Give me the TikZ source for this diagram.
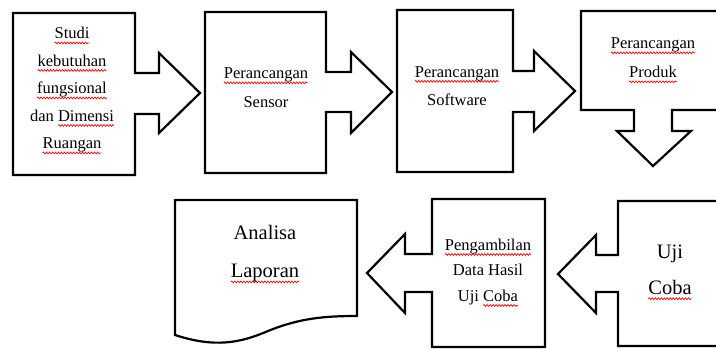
\documentclass[tikz,border=0pt]{standalone}
\usepackage{fontspec}
\setmainfont{Liberation Serif}
\usetikzlibrary{decorations.pathmorphing}
\newsavebox\wbox
\newcommand\sqw[1]{\sbox\wbox{#1}\tikz[x=1pt,y=1pt,baseline=0pt]{\path[use as bounding box] (0,0);
  \draw[red, line width=0.7pt, decorate, decoration={snake, amplitude=0.9pt, segment length=3pt}]
  (0,-4) -- (\the\wd\wbox,-4);}\usebox\wbox}
\tikzset{
  shape line/.style={draw=black, line width=2.2pt, fill=white},
  txt/.style={align=center, inner sep=0pt, text=black},
  small/.style={font=\fontsize{16.5}{#1}\selectfont},
  big/.style={font=\fontsize{20.5}{#1}\selectfont}
}
\begin{document}
\begin{tikzpicture}[x=1pt,y=-1pt]
\useasboundingbox (0,0) rectangle (716,349);
\clip (0,0) rectangle (716,349);
\fill[white] (0,0) rectangle (716,349);
% Box 1 with right arrow
\draw[shape line] (13,13) -- (135,13) -- (135,73) -- (159,73) -- (159,53) -- (200,93)
  -- (159,133) -- (159,114) -- (135,114) -- (135,175) -- (13,175) -- cycle;
% Box 2
\draw[shape line] (205,12) -- (326,12) -- (326,72) -- (351,72) -- (351,52) -- (392,92)
  -- (351,133) -- (351,112) -- (326,112) -- (326,173) -- (205,173) -- cycle;
% Box 3
\draw[shape line] (397,10) -- (513,10) -- (513,71) -- (534,71) -- (534,51) -- (575,91)
  -- (534,131) -- (534,112) -- (513,112) -- (513,172) -- (397,172) -- cycle;
% Box 4 with down arrow (cut off at the right)
\draw[shape line] (722,11) -- (581,11) -- (581,110) -- (634,110) -- (634,131) -- (617,131)
  -- (653,166) -- (691,131) -- (672,131) -- (672,110) -- (722,110);
% Box 5 document
\draw[shape line] (175,200) -- (357,200) -- (357,316)
  .. controls (325,316) and (300,318) .. (268,331)
  .. controls (240,343) and (215,348) .. (175,335) -- cycle;
% Box 6 with left arrow
\draw[shape line] (432,199) -- (545,199) -- (545,347) -- (432,347) -- (432,292) -- (405,292)
  -- (405,313) -- (367,273) -- (405,234) -- (405,254) -- (432,254) -- cycle;
% Box 7 with left arrow (cut off at the right)
\draw[shape line] (722,201) -- (618,201) -- (618,255) -- (596,255) -- (596,235) -- (558,274)
  -- (596,313) -- (596,292) -- (618,292) -- (618,346) -- (722,346);
% Texts
\node[txt, small=27.5] (t1) at (72,90) {\sqw{Studi}\\\sqw{kebutuhan}\\\sqw{fungsional}\\dan \sqw{Dimensi}\\\sqw{Ruangan}};
\node[txt, small=29] (t2) at (266,88) {\sqw{Perancangan}\\Sensor};
\node[txt, small=28] (t3) at (457,86) {\sqw{Perancangan}\\Software};
\node[txt, small=29] (t4) at (653,58) {\sqw{Perancangan}\\\sqw{Produk}};
\node[txt, big=38] (t5) at (265,254) {Analisa\\\sqw{Laporan}};
\node[txt, small=25.5] (t6) at (488,272) {\sqw{Pengambilan}\\Data Hasil\\Uji \sqw{Coba}};
\node[txt, big=36] (t7) at (670,270) {Uji\\\sqw{Coba}};
\end{tikzpicture}
\end{document}
